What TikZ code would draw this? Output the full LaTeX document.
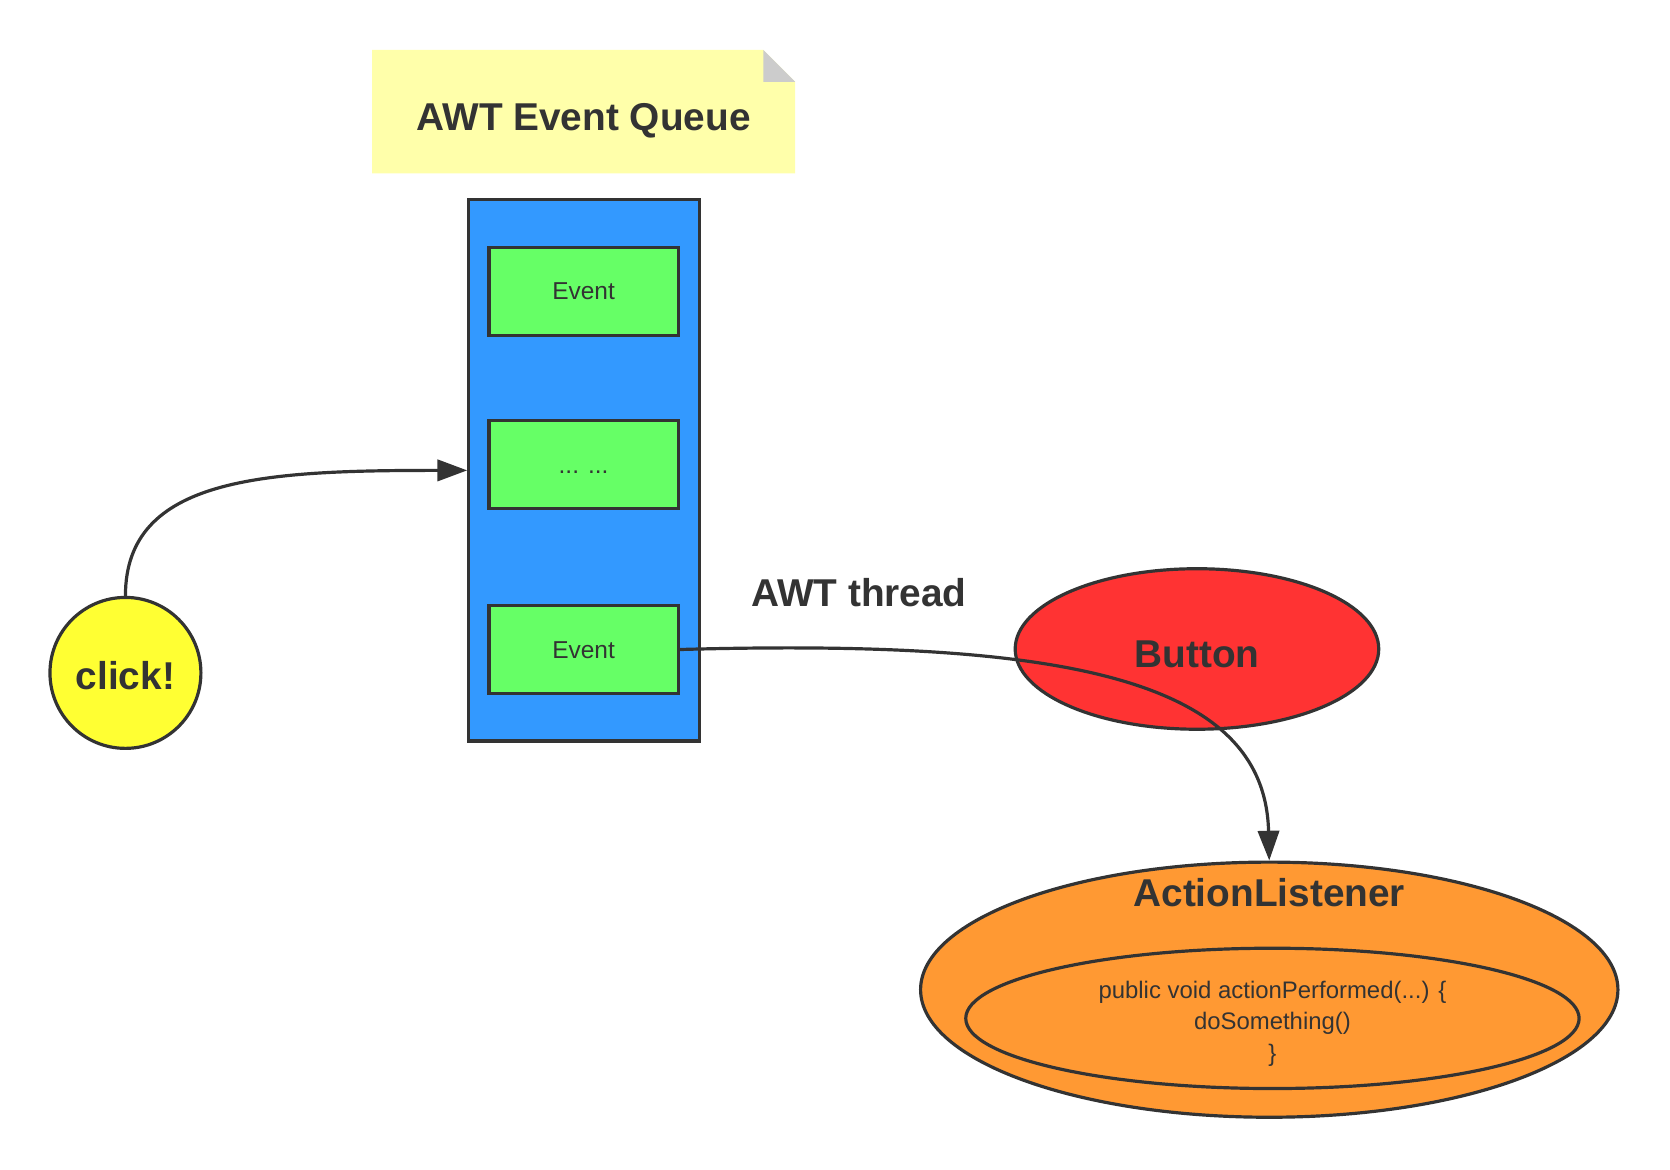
\documentclass[tikz,border=0pt]{standalone}
\usepackage{fontspec}
\setmainfont{Liberation Sans}
\usetikzlibrary{shapes.geometric,arrows.meta}

\definecolor{ink}{HTML}{333333}
\definecolor{notefill}{HTML}{FFFFAA}
\definecolor{foldgray}{HTML}{CCCCCC}
\definecolor{queueblue}{HTML}{3399FF}
\definecolor{eventgreen}{HTML}{66FF66}
\definecolor{clickyellow}{HTML}{FFFF33}
\definecolor{buttonred}{HTML}{FF3333}
\definecolor{listenerorange}{HTML}{FF9933}

\tikzset{
  box/.style={draw=ink, line width=3pt, text=ink, inner sep=0pt},
  bigtext/.style={text=ink, inner sep=0pt, text height=26pt, text depth=0pt,
    font=\fontsize{36.5}{42}\selectfont\bfseries},
  eventbox/.style={box, fill=eventgreen, minimum width=178pt, minimum height=83pt,
    text height=16pt, text depth=0pt, font=\fontsize{23}{27}\selectfont},
  oval/.style={box, ellipse},
  link/.style={draw=ink, line width=3pt, -{Triangle[length=28pt,width=20pt]}},
}

\begin{document}
\begin{tikzpicture}[x=1pt,y=-1pt]
\useasboundingbox (0,0) rectangle (1571,1100);

% note above the queue
\fill[notefill] (350,47) -- (718,47) -- (748,77) -- (748,163) -- (350,163) -- cycle;
\fill[foldgray] (718,47) -- (718,77) -- (748,77) -- cycle;
\node[bigtext] (queuetitle) at (549,110) {AWT Event Queue};

% the queue and its events
\node[box, fill=queueblue, minimum width=217pt, minimum height=509pt] (queue) at (549.5,442.5) {};
\node[eventbox] (ev1) at (549,274) {Event};
\node[eventbox] (ev2) at (549,437) {... ...};
\node[eventbox] (ev3) at (549,611) {Event};

\node[box, circle, fill=clickyellow, minimum size=142pt] (click) at (118,633) {};
\node[bigtext] (clicktext) at (118,636) {click!};

\node[bigtext] (thread) at (808,558) {AWT thread};

\node[oval, fill=buttonred, minimum width=342pt, minimum height=151pt] (button) at (1126,610.5) {};
\node[bigtext] (buttontext) at (1126,615) {Button};

% listener with its handler
\node[oval, fill=listenerorange, minimum width=656pt, minimum height=240pt] (listener) at (1194,931) {};
\node[bigtext] (listenertitle) at (1194,840) {ActionListener};
\node[oval, fill=listenerorange, minimum width=577pt, minimum height=132pt,
  align=center, font=\fontsize{22.5}{29.5}\selectfont] (handler) at (1197,958) {};
\node[align=center, text=ink, inner sep=0pt, font=\fontsize{22.5}{29.5}\selectfont]
  (handlertext) at (1197,963) {public void actionPerformed(...) \{\\doSomething()\\\}};

\draw[link] (click.north) .. controls +(0,-112) and +(-191,0) .. (queue.west);
\draw[link] (ev3.east) .. controls +(362,-10) and +(-4,-171) .. (listener.north);
\end{tikzpicture}
\end{document}
